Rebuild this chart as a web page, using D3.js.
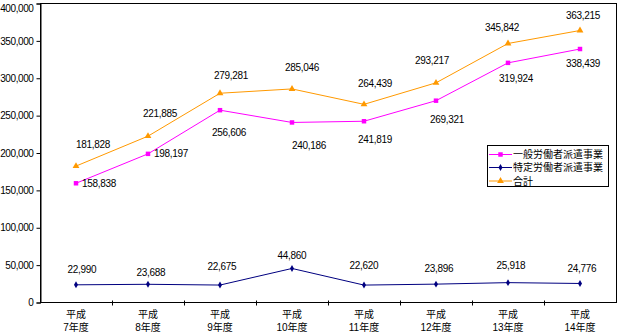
<!DOCTYPE html>
<html><head><meta charset="utf-8">
<script src="https://cdn.jsdelivr.net/npm/d3@7"></script>
<style>
body{margin:0;background:#fff;}
text{font-family:"Liberation Sans","Noto Sans CJK JP",sans-serif;fill:#000;}
</style></head>
<body><svg id="c" width="619" height="333"></svg>
<script>
const categories = ["7年度","8年度","9年度","10年度","11年度","12年度","13年度","14年度"];
const eraLabel = "平成";
const seriesNames = ["一般労働者派遣事業","特定労働者派遣事業","合計"];
const ippan = [158838,198197,256606,240186,241819,269321,319924,338439];
const tokutei = [22990,23688,22675,44860,22620,23896,25918,24776];
const goukei = [181828,221885,279281,285046,264439,293217,345842,363215];
const yTicks = [0,50000,100000,150000,200000,250000,300000,350000,400000];

// label offsets (layout only)
const offIppan = [[23,0],[23,0],[9,22],[17,23],[11,18],[11,19],[8,16],[3,14]];
const offTokutei = [[6,-15],[3,-12],[2,-19],[0,-13],[0,-20],[3,-16],[3,-17],[2,-15]];
const offGoukei = [[17,-22],[12,-23],[11,-18],[10,-21],[11,-21],[-4,-22],[-6,-16],[3,-15]];

const svg = d3.select("#c");
const L=40,R=616,T=3,B=302;
const x = d3.scaleBand().domain(categories).range([L,R]).padding(0);
const y = d3.scaleLinear().domain([0,400000]).range([B,T]);
const fmt = d3.format(",");
const cx = d => x(d)+x.bandwidth()/2;

// frame
svg.append("rect").attr("x",L+0.5).attr("y",T+0.5).attr("width",R-L).attr("height",B-T)
  .attr("fill","none").attr("stroke","#000").attr("stroke-width",1);

// y axis
const ya = svg.append("g").attr("transform",`translate(${L+0.5},0.5)`)
  .call(d3.axisLeft(y).tickValues(yTicks).tickFormat(fmt).tickSize(4).tickPadding(3));
ya.select(".domain").attr("stroke","#000");
ya.selectAll("text").style("font-size","10px").style("letter-spacing","-0.4px").attr("fill","#000")
  .style("font-family",'"Liberation Sans",sans-serif')
  .attr("dy",d=>d===400000?"0.75em":"0.32em");

// x axis ticks at boundaries
const xa = svg.append("g").attr("transform",`translate(0,${B+0.5})`);
xa.selectAll("line").data(categories.slice(1)).join("line")
  .attr("x1",d=>Math.round(x(d))+0.5).attr("x2",d=>Math.round(x(d))+0.5)
  .attr("y1",-2).attr("y2",3).attr("stroke","#000");
const xl = svg.append("g");
xl.selectAll("text.a").data(categories).join("text").attr("class","a")
  .attr("x",cx).attr("y",318).attr("text-anchor","middle").style("font-size","10px").text(eraLabel);
xl.selectAll("text.b").data(categories).join("text").attr("class","b")
  .attr("x",cx).attr("y",330.5).attr("text-anchor","middle").style("font-size","10px").text(d=>d);

const series = [
  {name:seriesNames[0], vals:ippan, color:"#FF00FF", marker:"square", off:offIppan},
  {name:seriesNames[1], vals:tokutei, color:"#000080", marker:"diamond", off:offTokutei},
  {name:seriesNames[2], vals:goukei, color:"#FF9900", marker:"triangle", off:offGoukei}
];
const symType = {square:d3.symbolSquare, diamond:d3.symbolDiamond, triangle:d3.symbolTriangle};
const symSize = {square:20, diamond:14, triangle:20};

const line = d3.line().x((d,i)=>cx(categories[i])).y(d=>y(d));
series.forEach(s=>{
  const g = svg.append("g");
  g.append("path").attr("d",line(s.vals)).attr("fill","none").attr("stroke",s.color).attr("stroke-width",1);
  g.selectAll("path.m").data(s.vals).join("path").attr("class","m")
    .attr("transform",(d,i)=>`translate(${cx(categories[i])},${y(d)})`)
    .attr("d",d3.symbol(symType[s.marker],symSize[s.marker])).attr("fill",s.color);
  g.selectAll("text").data(s.vals).join("text")
    .attr("x",(d,i)=>cx(categories[i])+s.off[i][0])
    .attr("y",(d,i)=>y(d)+s.off[i][1]+3.5)
    .attr("text-anchor","middle").style("font-size","10px").style("letter-spacing","-0.3px")
    .text(d=>fmt(d));
});

// legend
const lg = svg.append("g");
lg.append("rect").attr("x",487.5).attr("y",145.5).attr("width",121).attr("height",41)
  .attr("fill","#fff").attr("stroke","#000");
const ly = [154,167,180.5];
series.forEach((s,i)=>{
  lg.append("line").attr("x1",489).attr("x2",512).attr("y1",ly[i]+0.5).attr("y2",ly[i]+0.5).attr("stroke",s.color);
  lg.append("path").attr("transform",`translate(500.5,${ly[i]+0.5})`)
    .attr("d",d3.symbol(symType[s.marker],symSize[s.marker])).attr("fill",s.color);
  lg.append("text").attr("x",513).attr("y",ly[i]+4).style("font-size","10px").text(s.name);
});
</script></body></html>
